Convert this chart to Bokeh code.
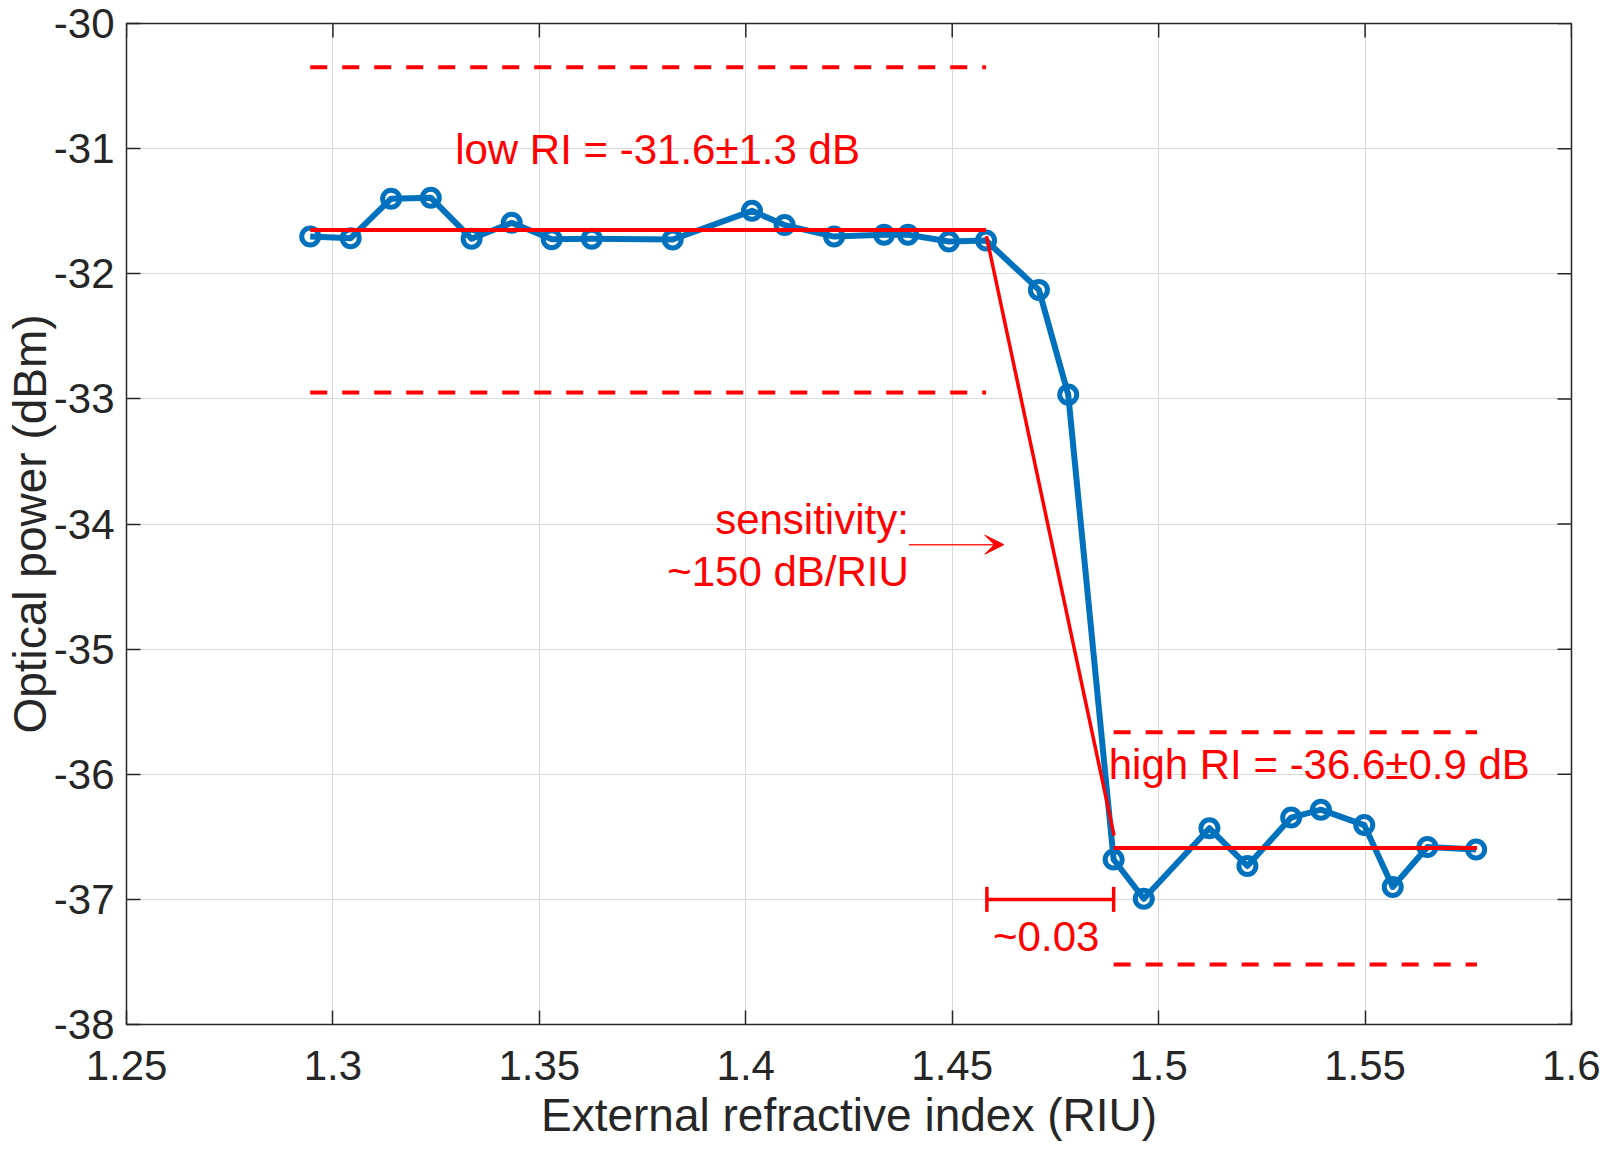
import math
from bokeh.plotting import figure
from bokeh.models import FixedTicker, Label, Arrow, VeeHead, TeeHead, Range1d
from bokeh.embed import file_html
from bokeh.resources import INLINE

# ---- data ----
ri = [1.2945, 1.3043, 1.3141, 1.3237, 1.3336, 1.3433, 1.3530, 1.3627, 1.3823,
      1.4015, 1.4094, 1.4214, 1.4335, 1.4393, 1.4492, 1.4582, 1.4710, 1.4781,
      1.4891, 1.4964, 1.5123, 1.5215, 1.5321, 1.5393, 1.5498, 1.5567, 1.5651, 1.5769]
power = [-31.703, -31.716, -31.400, -31.392, -31.721, -31.592, -31.724, -31.721, -31.726,
         -31.497, -31.611, -31.703, -31.689, -31.689, -31.742, -31.734, -32.129, -32.966,
         -36.681, -36.995, -36.432, -36.733, -36.346, -36.283, -36.406, -36.901, -36.581, -36.602]

x_ticks = [1.25, 1.3, 1.35, 1.4, 1.45, 1.5, 1.55, 1.6]
x_tick_labels = ["1.25", "1.3", "1.35", "1.4", "1.45", "1.5", "1.55", "1.6"]
y_ticks = [-38, -37, -36, -35, -34, -33, -32, -31, -30]
y_tick_labels = ["-38", "-37", "-36", "-35", "-34", "-33", "-32", "-31", "-30"]
x_min, x_max = 1.25, 1.6
y_min, y_max = -38, -30
x_title = "External refractive index (RIU)"
y_title = "Optical power (dBm)"

# low-RI level and band
low_x = [1.2945, 1.4582]
low_level = [-31.65, -31.65]
low_upper = [-30.35, -30.35]
low_lower = [-32.95, -32.95]
# high-RI level and band
high_x = [1.4891, 1.5771]
high_level = [-36.59, -36.59]
high_upper = [-35.665, -35.665]
high_lower = [-37.52, -37.52]
# transition (sensitivity) line
slope_x = [1.4583, 1.4892]
slope_y = [-31.70, -36.49]
# ~0.03 span marker
span_x = [1.4584, 1.4891]
span_y = -37.0
# sensitivity arrow
arrow_x = [1.4395, 1.4625]
arrow_y = -34.165

# annotation texts: (text, x, y of text middle, align)
notes = [
    ("low RI = -31.6\u00b11.3 dB", 1.3296, -31.005, "left"),
    ("high RI = -36.6\u00b10.9 dB", 1.4879, -35.921, "left"),
    ("sensitivity:", 1.4395, -33.961, "right"),
    ("~150 dB/RIU", 1.4395, -34.382, "right"),
    ("~0.03", 1.4599, -37.296, "left"),
]

FONT = "Liberation Sans"
AX = "#262626"
RED = "#ff0000"
BLUE = "#0072bd"

p = figure(width=1600, height=1143,
           x_range=Range1d(x_min, x_max), y_range=Range1d(y_min, y_max),
           output_backend="svg", toolbar_location=None,
           min_border_left=119, min_border_right=29,
           min_border_top=23, min_border_bottom=117,
           x_axis_label=x_title, y_axis_label=y_title)
p.background_fill_color = "white"
p.border_fill_color = "white"
p.outline_line_color = AX
p.outline_line_width = 1.5

xt = FixedTicker(ticks=x_ticks, minor_ticks=[])
yt = FixedTicker(ticks=y_ticks, minor_ticks=[])

bx = p.below[0]
ly = p.left[0]
bx.ticker = xt
ly.ticker = yt

for ax in [bx, ly]:
    ax.axis_line_color = None
    ax.major_tick_in = 14
    ax.major_tick_out = 0
    ax.major_tick_line_color = AX
    ax.major_tick_line_width = 1.5
    ax.minor_tick_line_color = None
    ax.major_label_text_font = FONT
    ax.major_label_text_font_size = "42px"
    ax.major_label_text_color = AX
    ax.axis_label_text_font = FONT
    ax.axis_label_text_font_style = "normal"
    ax.axis_label_text_font_size = "46px"
    ax.axis_label_text_color = AX

bx.major_label_overrides = {t: s for t, s in zip(x_ticks, x_tick_labels)}
ly.major_label_overrides = {t: s for t, s in zip(y_ticks, y_tick_labels)}
bx.major_label_standoff = 26
bx.axis_label_standoff = 6
ly.major_label_standoff = 12
ly.axis_label_standoff = -5

p.xgrid.ticker = xt
p.ygrid.ticker = yt
p.grid.grid_line_color = "#d9d9d9"
p.grid.grid_line_width = 1

# box ticks on the top and right edges (half of each dash is clipped by the frame)
p.scatter(x_ticks, [y_max] * len(x_ticks), marker="dash", size=28, angle=math.pi / 2,
          line_color=AX, line_width=1.5)
p.scatter([x_max] * len(y_ticks), y_ticks, marker="dash", size=28,
          line_color=AX, line_width=1.5)

# measured data
p.line(ri, power, line_color=BLUE, line_width=6, line_join="round")
p.scatter(ri, power, marker="circle", size=17, line_color=BLUE, line_width=5,
          fill_color=None)

# red fit lines
p.line(low_x, low_level, line_color=RED, line_width=4)
p.line(low_x, low_upper, line_color=RED, line_width=4, line_dash="17 15")
p.line(low_x, low_lower, line_color=RED, line_width=4, line_dash="17 15")
p.line(high_x, high_level, line_color=RED, line_width=4)
p.line(high_x, high_upper, line_color=RED, line_width=4, line_dash="17 15")
p.line(high_x, high_lower, line_color=RED, line_width=4, line_dash="17 15")
p.line(slope_x, slope_y, line_color=RED, line_width=3.5)

# span marker
p.add_layout(Arrow(start=TeeHead(size=25, line_color=RED, line_width=3.5),
                   end=TeeHead(size=25, line_color=RED, line_width=3.5),
                   x_start=span_x[0], y_start=span_y, x_end=span_x[1], y_end=span_y,
                   line_color=RED, line_width=3.5))
# sensitivity arrow
p.add_layout(Arrow(end=VeeHead(size=19, line_color=RED, fill_color=RED, line_width=1),
                   x_start=arrow_x[0], y_start=arrow_y, x_end=arrow_x[1], y_end=arrow_y,
                   line_color=RED, line_width=1.5, line_alpha=0.85))

for txt, x, y, al in notes:
    p.add_layout(Label(x=x, y=y, text=txt, text_font=FONT, text_font_size="42px",
                       text_color=RED, text_align=al, text_baseline="middle"))

open("out.html", "w").write(file_html(p, INLINE))
